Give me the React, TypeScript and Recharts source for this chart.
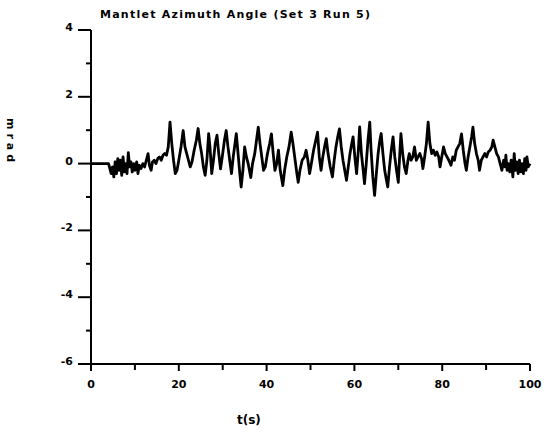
import React from "react";
import { LineChart, Line, XAxis, YAxis } from "recharts";

const TIME_S = [
  0, 0.5, 1, 1.5, 2, 2.5, 3, 3.5, 4, 4.3, 4.6, 4.9, 5.2, 5.5, 5.8, 6.1, 6.4, 6.7, 7, 7.3, 7.6, 7.9, 8.2, 8.5, 8.8, 9.1, 9.4, 9.7,
  10, 10.4, 10.7, 11, 11.4, 11.8, 12.2, 12.6, 13, 13.3, 13.7, 14, 14.4, 14.8, 15.2, 15.6, 16, 16.4, 16.8, 17.2, 17.6, 18, 18.4,
  18.8, 19.2, 19.6, 20, 20.5, 21, 21.4, 21.8, 22.2, 22.6, 23, 23.5, 24, 24.4, 24.8, 25.2, 25.6, 26, 26.4, 26.8, 27.1, 27.5, 27.9,
  28.3, 28.7, 29.1, 29.5, 29.9, 30.4, 30.8, 31.2, 31.6, 32, 32.4, 32.8, 33.1, 33.5, 33.9, 34.2, 34.6, 35, 35.4, 35.8, 36.4, 36.8,
  37.3, 37.7, 38.1, 38.5, 38.9, 39.3, 39.7, 40.2, 40.7, 41.1, 41.5, 41.9, 42.3, 42.7, 43.1, 43.7, 44.1, 44.6, 45.1, 45.6, 46, 46.5,
  46.9, 47.2, 47.6, 48.1, 48.6, 49, 49.4, 49.8, 50.2, 50.7, 51.2, 51.6, 52, 52.4, 52.8, 53.2, 53.6, 54, 54.5, 55, 55.4, 55.8, 56.2,
  56.6, 57, 57.4, 57.8, 58.2, 58.6, 59, 59.4, 59.7, 60.1, 60.5, 60.9, 61.2, 61.6, 62, 62.3, 62.7, 63.1, 63.5, 63.8, 64.2, 64.6, 65,
  65.4, 65.8, 66.1, 66.5, 66.9, 67.3, 67.6, 68, 68.4, 68.8, 69.2, 69.6, 70, 70.3, 70.6, 71, 71.4, 71.8, 72.2, 72.5, 72.9, 73.3, 73.7,
  74.1, 74.5, 74.9, 75.3, 75.6, 76, 76.4, 76.8, 77.2, 77.6, 78, 78.4, 78.8, 79.2, 79.5, 79.9, 80.3, 80.7, 81.1, 81.5, 82, 82.4, 82.8,
  83.2, 83.6, 84, 84.4, 84.8, 85.2, 85.5, 85.9, 86.3, 86.7, 87, 87.4, 87.8, 88.2, 88.5, 88.9, 89.3, 89.7, 90.1, 90.5, 90.9, 91.3,
  91.6, 92, 92.4, 92.8, 93.2, 93.6, 94, 94.3, 94.5, 94.8, 95.1, 95.4, 95.7, 96.1, 96.4, 96.7, 97, 97.3, 97.6, 97.9, 98.2, 98.5,
  98.8, 99.1, 99.3, 99.6, 100,
];

const ANGLE_MRAD = [
  0, 0, 0, 0, 0, 0, 0, 0, 0, -0.15, -0.3, -0.1, -0.4, 0.05, -0.3, 0.15, -0.2, 0.1, -0.35, 0.2, -0.25, 0, -0.3, 0.33, -0.1, 0.05, -0.25, 0,
  -0.2, 0.05, -0.3, -0.05, -0.15, 0, -0.1, 0.1, 0.3, -0.05, -0.2, 0.05, 0.1, 0, 0.15, 0.2, 0.1, 0.25, 0.3, 0.25, 0.5, 1.24, 0.6,
  0.1, -0.3, -0.2, 0.1, 0.5, 0.99, 0.5, 0.3, 0.1, -0.1, 0.05, 0.4, 0.7, 1.05, 0.6, 0.3, -0.1, -0.35, 0.1, 0.9, 0.5, -0.3, 0.1,
  0.6, 0.85, 0.3, -0.16, 0.2, 0.7, 0.99, 0.5, 0.1, -0.3, 0.2, 0.6, 0.9, 0.3, -0.3, -0.7, -0.2, 0.5, 0.2, 0, -0.42, 0,
  0.3, 0.7, 1.09, 0.6, 0.2, -0.2, -0.1, 0.3, 0.6, 0.89, 0.3, -0.2, 0, 0.4, -0.2, -0.66, -0.2, 0.2, 0.5, 0.94, 0.6, 0.1,
  -0.3, -0.56, -0.2, 0.1, 0.2, 0.4, 0.1, -0.3, 0, 0.4, 0.7, 0.94, 0.2, -0.2, 0.2, 0.5, 0.75, 0.3, -0.1, -0.4, 0.1, 0.5, 0.8,
  1.04, 0.5, 0.1, -0.2, -0.5, -0.1, 0.3, 0.6, 0.8, 0.2, -0.3, 0.4, 1.1, 0.3, -0.2, -0.6, 0, 0.7, 1.24, 0.4, -0.4, -0.95, -0.3,
  0.3, 0.7, 0.9, 0.3, -0.2, -0.5, -0.7, -0.1, 0.4, 0.8, 0.2, -0.2, -0.56, 0.2, 0.9, 0.3, -0.1, -0.3, 0.1, 0.3, 0.1, 0.2, 0.5,
  0.1, 0.2, 0.3, 0.15, -0.15, 0.2, 0.6, 1.24, 0.6, 0.3, 0.4, 0.25, 0.35, 0.2, -0.1, 0.2, 0.5, 0.3, 0.2, 0.1, -0.05, 0.2, 0.1,
  0.4, 0.5, 0.6, 0.89, 0.4, 0, -0.2, 0.2, 0.5, 0.8, 1.09, 0.6, 0.3, 0.1, -0.2, 0.1, 0.2, 0.3, 0.2, 0.35, 0.4, 0.5,
  0.7, 0.5, 0.3, 0.2, 0, -0.2, 0.1, -0.1, 0.25, -0.2, 0, -0.25, 0.1, -0.4, 0.3, -0.2, 0.05, -0.3, 0.1, -0.25, 0, -0.3,
  0.15, -0.2, 0.2, -0.1, 0,
];

const X_TICKS = [0, 10, 20, 30, 40, 50, 60, 70, 80, 90, 100];
const X_LABELED = [0, 20, 40, 60, 80, 100];
const Y_TICKS = [-6, -5, -4, -3, -2, -1, 0, 1, 2, 3, 4];
const Y_LABELED = [-6, -4, -2, 0, 2, 4];

const TITLE = "Mantlet Azimuth Angle (Set 3 Run 5)";
const X_LABEL = "t(s)";
const Y_LABEL = "mrad";

const data = TIME_S.map((t, i) => ({ t, v: ANGLE_MRAD[i] }));

const FONT = "'DejaVu Sans', sans-serif";

const XTick = (props: any) => {
  const { x, y, payload } = props;
  const major = X_LABELED.includes(payload.value);
  return (
    <g>
      <line x1={x} y1={y} x2={x} y2={y + (major ? 7 : 6)} stroke="#000" strokeWidth={2} />
      {major && (
        <text x={x} y={y + 24} textAnchor="middle" fontFamily={FONT} fontWeight="bold" fontSize={11} fill="#000">
          {payload.value}
        </text>
      )}
    </g>
  );
};

const YTick = (props: any) => {
  const { x, y, payload } = props;
  const major = Y_LABELED.includes(payload.value);
  return (
    <g>
      <line x1={x - (major ? 13 : 5)} y1={y} x2={x} y2={y} stroke="#000" strokeWidth={2} />
      {major && (
        <text x={x - 18} y={y + 1} textAnchor="end" fontFamily={FONT} fontWeight="bold" fontSize={11} fill="#000">
          {payload.value}
        </text>
      )}
    </g>
  );
};

export default function App() {
  return (
    <div style={{ position: "absolute", left: 0, top: 0, width: 546, height: 433, background: "#fff" }}>
      <LineChart width={546} height={433} data={data} margin={{ top: 30, right: 16, bottom: 39, left: 31 }}>
        <XAxis
          dataKey="t"
          type="number"
          domain={[0, 100]}
          ticks={X_TICKS}
          interval={0}
          tickSize={0}
          tickMargin={0}
          tickLine={false}
          tick={<XTick />}
          stroke="#000"
          strokeWidth={2}
          height={30}
        />
        <YAxis
          type="number"
          domain={[-6, 4]}
          ticks={Y_TICKS}
          interval={0}
          tickSize={0}
          tickMargin={0}
          tickLine={false}
          tick={<YTick />}
          stroke="#000"
          strokeWidth={2}
          width={60}
        />
        <Line
          type="linear"
          dataKey="v"
          stroke="#000"
          strokeWidth={2.8}
          strokeLinejoin="round"
          dot={false}
          isAnimationActive={false}
        />
        <text x={100} y={18} fontFamily={FONT} fontWeight="bold" fontSize={11} textLength={270} lengthAdjust="spacing" fill="#000">
          {TITLE}
        </text>
        <text x={237} y={424} fontFamily={FONT} fontWeight="bold" fontSize={12} fill="#000">
          {X_LABEL}
        </text>
        <text
          x={10}
          y={140}
          textAnchor="middle"
          transform="rotate(90 10 140)"
          dominantBaseline="central"
          fontFamily={FONT}
          fontWeight="bold"
          fontSize={11}
          textLength={44}
          lengthAdjust="spacing"
          fill="#000"
        >
          {Y_LABEL}
        </text>
      </LineChart>
    </div>
  );
}
